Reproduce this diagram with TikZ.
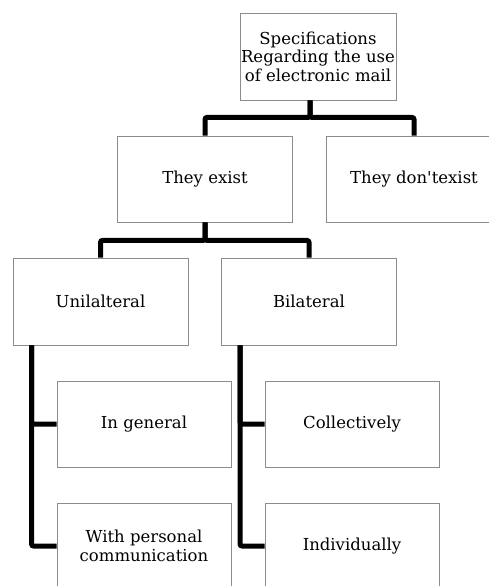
\documentclass[tikz,border=0pt]{standalone}
\usepackage{fontspec}
\setmainfont{DejaVu Serif}
\begin{document}
\begin{tikzpicture}[x=1pt,y=-1pt,
  box/.style={draw=black!45,line width=0.9pt,fill=white,minimum width=175pt,minimum height=86pt,
    inner sep=1pt,align=center,font=\fontsize{16.5}{18.5}\selectfont},
  conn/.style={line width=5pt,rounded corners=2pt}]
\useasboundingbox (0,0) rectangle (489,586);
\clip (0,0) rectangle (489,586);
\node[box,minimum width=156pt,minimum height=87pt] (top) at (318,56.5) {Specifications\\Regarding the use\\of electronic mail};
\node[box] (exist) at (205,179) {They exist};
\node[box] (dont) at (414,179) {They don\textquotesingle texist};
\node[box,minimum height=87pt] (uni) at (100.5,301.5) {Unilalteral};
\node[box,minimum height=87pt] (bi) at (309,301.5) {Bilateral};
\node[box,minimum width=174pt] (gen) at (144,424) {In general};
\node[box,minimum width=174pt] (pers) at (144,546) {With personal\\communication};
\node[box,minimum width=174pt] (coll) at (352,424) {Collectively};
\node[box,minimum width=174pt] (ind) at (352,546) {Individually};
\coordinate (t0) at ([xshift=-8pt]top.south);
\draw[conn] (t0) -- ++(0,17) -| (exist.north);
\draw[conn] (t0) -- ++(0,17) -| (dont.north);
\draw[conn] (exist.south) -- ++(0,18) -| (uni.north);
\draw[conn] (exist.south) -- ++(0,18) -| (bi.north);
\coordinate (u0) at ([xshift=19pt]uni.south west);
\coordinate (b0) at ([xshift=19pt]bi.south west);
\draw[conn] (u0) |- (gen.west);
\draw[conn] (u0) |- (pers.west);
\draw[conn] (b0) |- (coll.west);
\draw[conn] (b0) |- (ind.west);
\end{tikzpicture}
\end{document}
